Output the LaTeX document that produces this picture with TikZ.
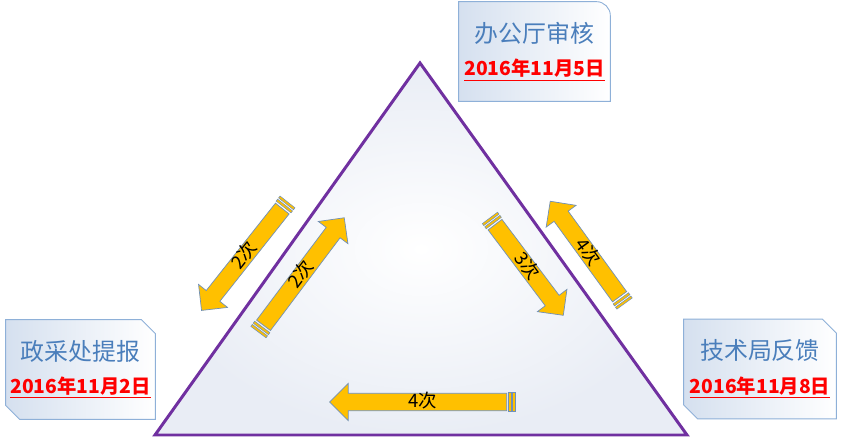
\documentclass[tikz,border=0pt]{standalone}
\usepackage{fontspec}
\setmainfont{Noto Sans CJK SC}
\usetikzlibrary{shapes.arrows,calc,backgrounds}

\definecolor{flowpurple}{HTML}{7030A0}
\definecolor{arrowgold}{HTML}{FFC000}
\definecolor{arrowline}{HTML}{7090B8}
\definecolor{boxline}{HTML}{8EB0D8}
\definecolor{boxblue}{HTML}{D5E0EF}
\definecolor{titleblue}{HTML}{4A7EBB}
\definecolor{triedge}{HTML}{E9EDF5}

\newcommand{\titletext}[1]{{\fontsize{13.6}{16}\selectfont\color{titleblue}#1}}
\newcommand{\datetext}[1]{{\fontsize{11}{14}\selectfont\bfseries\color{red}\underline{#1}}}

\begin{document}
\begin{tikzpicture}[x=0.02cm, y=0.02cm,
    note/.style={inner sep=0pt, minimum width=3.02cm, minimum height=1.98cm, align=center},
    boxfill/.style={draw=boxline, line width=0.5pt, left color=boxblue, right color=white},
    hop/.style={single arrow, draw=arrowline, fill=arrowgold, anchor=tail,
      minimum width=0.74cm, single arrow head extend=0.18cm, inner sep=0pt,
      text height=1.4ex, text depth=0.2ex, font=\fontsize{10.5}{12}\selectfont},
    stripe/.style={draw=arrowline, fill=arrowgold, line width=0.3pt},
  ]
  \useasboundingbox (0,0) rectangle (841,438);

  % triangle
  \shade[inner color=white, outer color=triedge] (420,375) -- (155,3) -- (687,3) -- cycle;
  \draw[flowpurple, line width=1.7pt, line join=miter] (420,375) -- (155,3) -- (687,3) -- cycle;

  % boxes
  \node[note] (audit) at (534.5,386.5) {\titletext{办公厅审核}\\[7pt]\datetext{2016年11月5日}};
  \node[note, minimum width=2.98cm] (propose) at (80.5,68.5) {\titletext{政采处提报}\\[7pt]\datetext{2016年11月2日}};
  \node[note, minimum width=3.04cm] (tech) at (760,69) {\titletext{技术局反馈}\\[7pt]\datetext{2016年11月8日}};
  \begin{scope}[on background layer]
    \shade[boxfill] (audit.south west) -- (audit.north west) -- ($(audit.north east)+(-14,0)$)
      arc[start angle=90, end angle=0, radius=14] -- (audit.south east) -- cycle;
    \foreach \b in {propose,tech}
      \shade[boxfill] (\b.north west) -- ($(\b.north east)+(-14,0)$) -- ($(\b.north east)+(0,-14)$)
        -- (\b.south east) -- ($(\b.south west)+(14,0)$) -- ($(\b.south west)+(0,14)$) -- cycle;
  \end{scope}

  % arrows
  \node[hop, rotate=51.6, shape border rotate=180, minimum height=2.6cm] (retL) at (282.5,229.7) {2次};
  \node[hop, rotate=53.1, minimum height=2.69cm] (subL) at (263.3,112.4) {2次};
  \node[hop, rotate=-53, minimum height=2.27cm] (subR) at (494.8,213.6) {3次};
  \node[hop, rotate=-54, shape border rotate=180, minimum height=2.36cm] (retR) at (619.8,141) {4次};
  \node[hop, shape border rotate=180, minimum height=3.54cm] (retB) at (507,36) {4次};

  % striped tails
  \foreach \a/\ang in {retL/231.6, subL/53.1, subR/-53, retR/126, retB/180}{
    \begin{scope}[shift={(\a.tail)}, rotate=\ang]
      \foreach \s in {1.7,5.7}
        \draw[stripe] (-\s,-9.5) rectangle ++(-2.4,19);
    \end{scope}
  }
\end{tikzpicture}
\end{document}
